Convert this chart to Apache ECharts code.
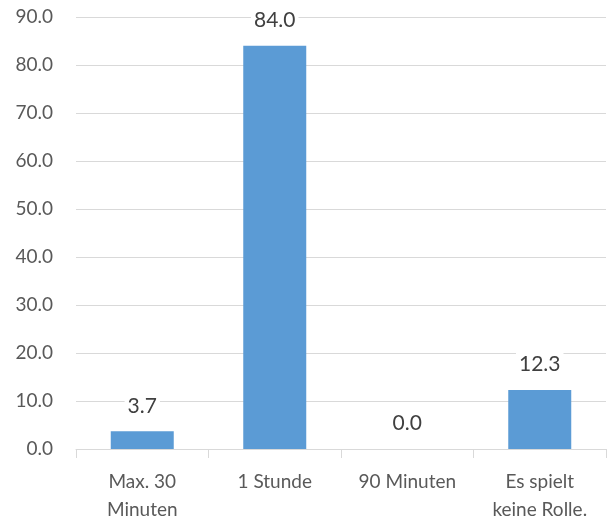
<!DOCTYPE html>
<html>
<head>
<meta charset="utf-8">
<script src="https://cdn.jsdelivr.net/npm/echarts@6/dist/echarts.min.js"></script>
<style>
  html, body { margin: 0; padding: 0; background: #fff; }
  #chart { width: 607px; height: 519px; }
</style>
</head>
<body>
<div id="chart"></div>
<script>
  const categories = ['Max. 30\nMinuten', '1 Stunde', '90 Minuten', 'Es spielt\nkeine Rolle.'];
  const values = [3.7, 84.0, 0.0, 12.3];
  const yMin = 0, yMax = 90, yStep = 10;

  const myChart = echarts.init(document.getElementById('chart'));
  const font = 'Lato, "Open Sans", sans-serif';

  myChart.setOption({
    animation: false,
    grid: { left: 76, right: 1, top: 17, bottom: 70, outerBoundsMode: 'none' },
    xAxis: {
      type: 'category',
      data: categories,
      axisLine: { lineStyle: { color: '#d9d9d9', width: 1 } },
      axisTick: { show: true, length: 9, lineStyle: { color: '#d9d9d9' } },
      axisLabel: {
        color: '#595959', fontSize: 19, fontFamily: font,
        margin: 19, lineHeight: 28, interval: 0
      }
    },
    yAxis: {
      type: 'value',
      min: yMin, max: yMax, interval: yStep,
      axisLine: { show: false },
      axisTick: { show: false },
      splitLine: { lineStyle: { color: '#d9d9d9', width: 1 } },
      axisLabel: {
        color: '#595959', fontSize: 19, fontFamily: font, margin: 23,
        formatter: v => v.toFixed(1)
      }
    },
    series: [{
      type: 'bar',
      data: values,
      barWidth: 63,
      itemStyle: { color: '#5b9bd5' },
      label: {
        show: true, position: 'top', distance: 13,
        color: '#404040', fontSize: 21, fontFamily: font,
        backgroundColor: '#fff', padding: [2, 3],
        formatter: p => p.value.toFixed(1)
      }
    }]
  });
</script>
</body>
</html>
